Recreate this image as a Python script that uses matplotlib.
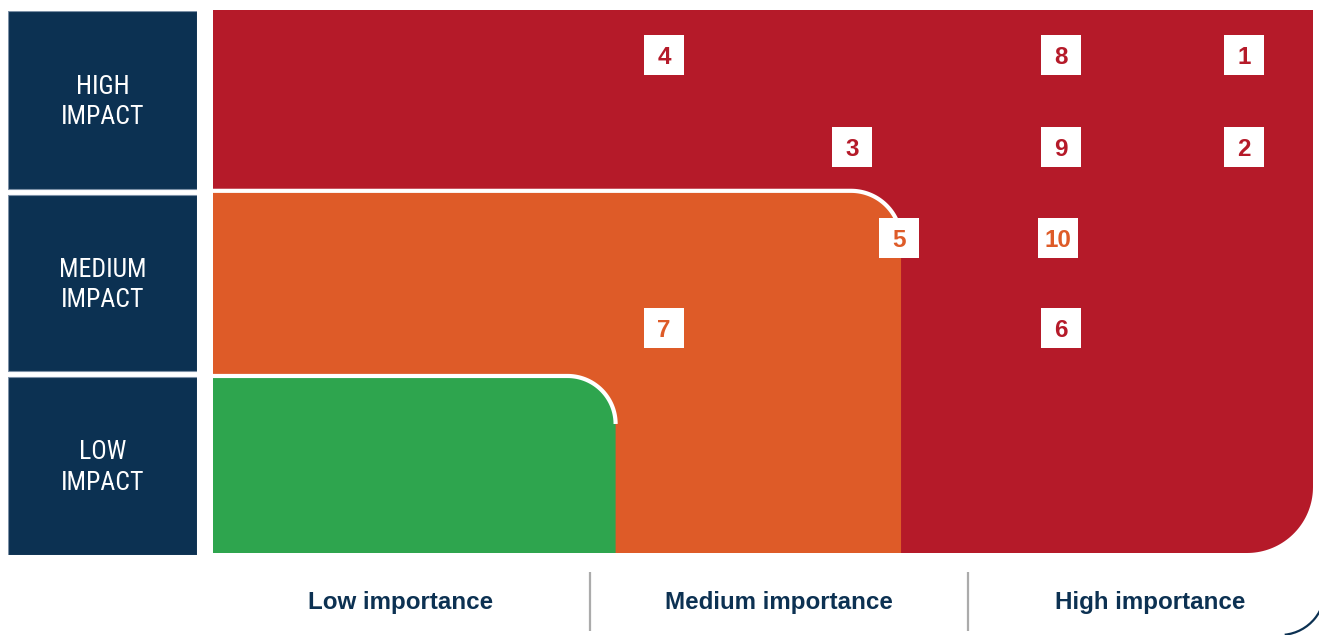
import numpy as np
import matplotlib
matplotlib.use("Agg")
import matplotlib.pyplot as plt
from matplotlib.patches import Polygon, Rectangle, Arc
from matplotlib import font_manager

# ---------------- data ----------------
item_ids = ["1", "2", "3", "4", "5", "6", "7", "8", "9", "10"]
importance = [9.37, 9.37, 5.81, 4.10, 6.24, 7.71, 4.10, 7.71, 7.71, 7.68]
impact = [9.17, 7.48, 7.48, 9.17, 5.80, 4.14, 4.14, 9.17, 7.48, 5.80]
item_level = ["high", "high", "high", "high", "medium", "high", "medium", "high", "high", "medium"]

impact_rows = ["LOW\nIMPACT", "MEDIUM\nIMPACT", "HIGH\nIMPACT"]
importance_cols = ["Low importance", "Medium importance", "High importance"]

# zones: (max importance, max impact)
zone_high = (10.0, 10.0)
zone_medium = (6.255, 6.67)
zone_low = (3.66, 3.26)

# ---------------- style ----------------
RED = "#B51A29"
ORANGE = "#DE5B28"
GREEN = "#2EA54E"
NAVY = "#0C3152"
GRAY = "#ABABAB"
level_color = {"high": RED, "medium": ORANGE}

names = {f.name for f in font_manager.fontManager.ttflist}
COND = "Liberation Sans"
for cand in ["Roboto Condensed", "Archivo Narrow", "PT Sans Narrow", "Liberation Sans Narrow",
             "Open Sans Condensed", "Barlow Condensed"]:
    if cand in names:
        COND = cand
        break
cond_size = {"Roboto Condensed": 18.5, "Archivo Narrow": 19, "PT Sans Narrow": 19.5,
             "Liberation Sans Narrow": 19, "Open Sans Condensed": 18, "Barlow Condensed": 20}.get(COND, 16)

W, H = 1319, 635
fig = plt.figure(figsize=(W / 100, H / 100), dpi=100)
fig.patch.set_facecolor("white")

# main matrix axes (pixel box 213..1313 x 10..553)
ax = fig.add_axes([213 / W, (H - 553) / H, 1100 / W, 543 / H])
ax.set_xlim(0, 10)
ax.set_ylim(0, 10)
ax.axis("off")

px_x = 1100 / 10.0  # pixels per x unit
px_y = 543 / 10.0   # pixels per y unit


def arc_pts(cx, cy, r_px, a0, a1, n=40):
    t = np.radians(np.linspace(a0, a1, n))
    return np.column_stack([cx + r_px / px_x * np.cos(t), cy + r_px / px_y * np.sin(t)])


def rect_round_tr(x1, y1, r_px):
    rx, ry = r_px / px_x, r_px / px_y
    pts = [(0, 0), (x1, 0), (x1, y1 - ry)]
    pts += list(map(tuple, arc_pts(x1 - rx, y1 - ry, r_px, 0, 90)))
    pts += [(0, y1)]
    return np.array(pts)


def rect_round_br(x1, y1, r_px):
    rx, ry = r_px / px_x, r_px / px_y
    pts = [(0, 0), (x1 - rx, 0)]
    pts += list(map(tuple, arc_pts(x1 - rx, ry, r_px, -90, 0)))
    pts += [(x1, y1), (0, y1)]
    return np.array(pts)


def top_outline(x1, y1, r_px):
    rx, ry = r_px / px_x, r_px / px_y
    pts = [(0, y1), (x1 - rx, y1)]
    pts += list(map(tuple, arc_pts(x1 - rx, y1 - ry, r_px, 90, 0)))
    return np.array(pts)


ax.add_patch(Polygon(rect_round_br(*zone_high, 66), closed=True, facecolor=RED, edgecolor="none"))
ax.add_patch(Polygon(rect_round_tr(*zone_medium, 50), closed=True, facecolor=ORANGE, edgecolor="none"))
o = top_outline(*zone_medium, 50)
ax.plot(o[:, 0], o[:, 1], color="white", lw=3.0, solid_capstyle="butt")
ax.add_patch(Polygon(rect_round_tr(*zone_low, 48), closed=True, facecolor=GREEN, edgecolor="none"))
g = top_outline(*zone_low, 48)
ax.plot(g[:, 0], g[:, 1], color="white", lw=3.0, solid_capstyle="butt")

# item markers
ax.scatter(importance, impact, marker="s", s=(40 * 0.72) ** 2, color="white", linewidths=0, zorder=5)
for lab, xv, yv, lv in zip(item_ids, importance, impact, item_level):
    ax.text(xv, yv, lab, ha="center", va="center_baseline", fontsize=17.5, fontweight="bold",
            family=["Liberation Sans", "DejaVu Sans"], color=level_color[lv], zorder=6)

# left impact labels (pixel box 8..197 x 11..555)
axl = fig.add_axes([8 / W, (H - 555) / H, 189 / W, 544 / H])
axl.set_xlim(0, 1)
axl.set_ylim(0, 3)
axl.axis("off")
gap = 0.016
for i, lab in enumerate(impact_rows):
    b = i + (0 if i == 0 else gap)
    t = i + 1 - (0 if i == 2 else gap)
    axl.add_patch(Rectangle((0, b), 1, t - b, facecolor=NAVY, edgecolor="#7C90A6", lw=0.8))
    axl.text(0.5, (b + t) / 2 - 0.01, lab, ha="center", va="center", color="white", fontsize=cond_size,
             family=[COND, "DejaVu Sans"], linespacing=1.33)

# bottom importance labels
axb = fig.add_axes([212 / W, 0, 1134 / W, 64 / H])
axb.set_xlim(0, 3)
axb.set_ylim(0, 1)
axb.axis("off")
for i, lab in enumerate(importance_cols):
    axb.text(i + 0.5 - (0.018 if i == 2 else 0), 32 / 64, lab, ha="center", va="center", color=NAVY,
             fontsize=17.4, fontweight="bold", family=["Liberation Sans", "DejaVu Sans"])
for i in range(1, len(importance_cols)):
    axb.plot([i, i], [4 / 64, 64 / 64 - 0.02], color=GRAY, lw=1.6, solid_capstyle="butt",
             clip_on=False)

# decorative arc at bottom-right corner
axd = fig.add_axes([0, 0, 1, 1])
axd.set_xlim(0, W)
axd.set_ylim(0, H)
axd.axis("off")
axd.set_zorder(-1)
axd.add_patch(Arc((1280, 45), 90, 90, theta1=-84, theta2=5, color=NAVY, lw=1.6))

fig.savefig("out.png", dpi=100, facecolor="white")
